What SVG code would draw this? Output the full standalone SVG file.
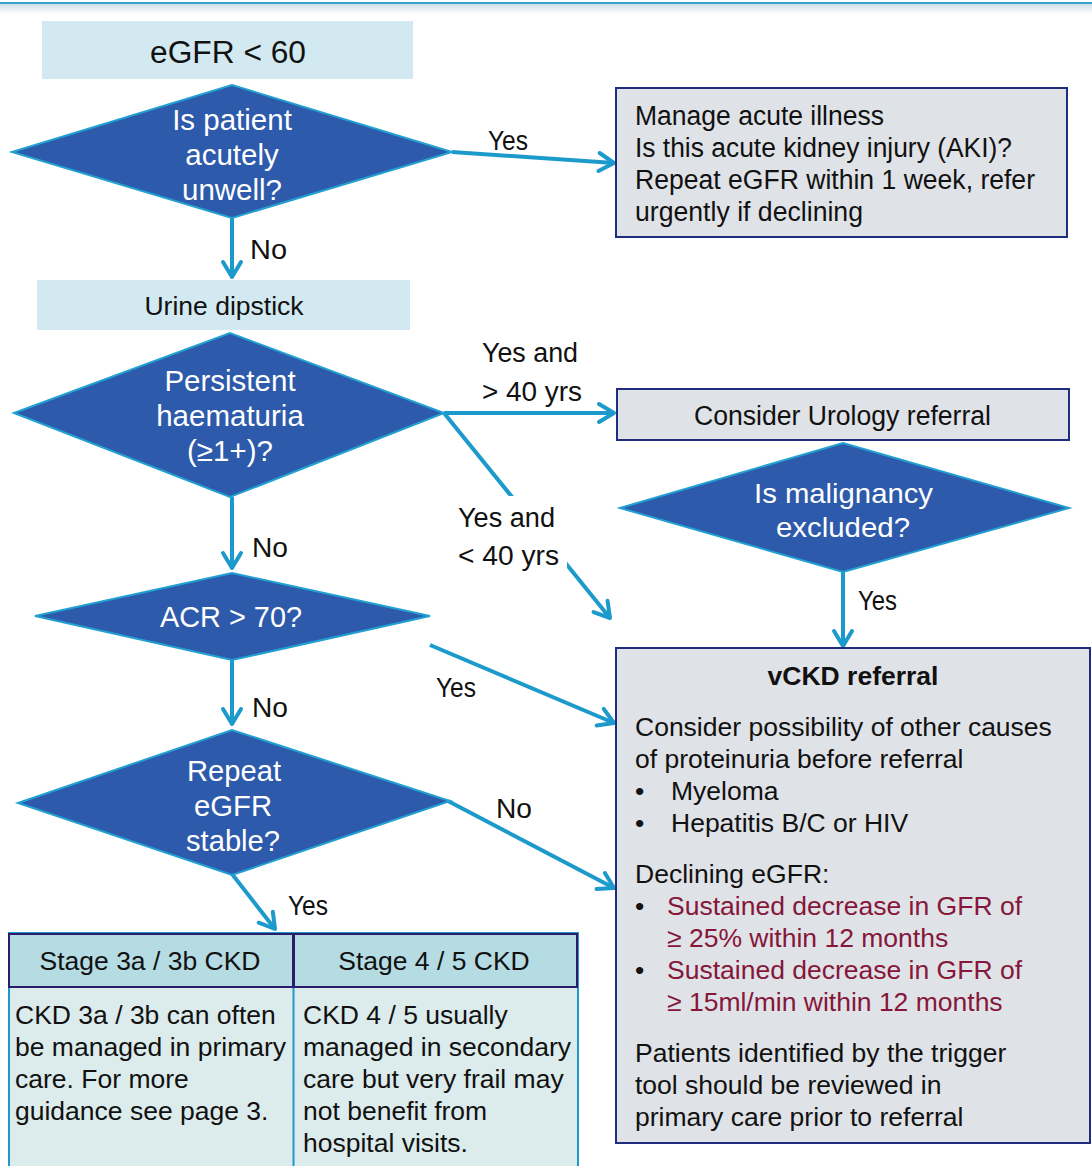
<svg xmlns="http://www.w3.org/2000/svg" width="1092" height="1166" viewBox="0 0 1092 1166">
<defs>
<linearGradient id="topg" x1="0" y1="0" x2="0" y2="1"><stop offset="0" stop-color="#cfdde6"/><stop offset="1" stop-color="#ffffff"/></linearGradient>
<marker id="ah" markerUnits="userSpaceOnUse" viewBox="0 0 24 24" refX="20" refY="12" markerWidth="24" markerHeight="24" orient="auto">
<path d="M5,3 L20,12 L5,21" fill="none" stroke="#1c9acb" stroke-width="4" stroke-linecap="round" stroke-linejoin="round"/>
</marker>
<style>
.t{font-family:"Liberation Sans",Arial,sans-serif;fill:#111}
.n{font-family:"Liberation Sans Narrow","Arial Narrow","Liberation Sans",sans-serif;fill:#111}
.w{fill:#fff}
.dia{fill:#2d5aab;stroke:#22a0d2;stroke-width:2}
.lb{fill:#d2e9f1}
.gb{fill:#dfe2e6;stroke:#1e2d7d;stroke-width:2}
.c{fill:none;stroke:#1c9acb;stroke-width:4;marker-end:url(#ah)}
.red{fill:#86163a}
</style>
</defs>
<rect width="1092" height="1166" fill="#fff"/>
<rect x="0" y="4" width="1092" height="10" fill="url(#topg)"/>
<rect x="0" y="2" width="1092" height="2" fill="#3aa2d2"/>

<g id="connectors">
<line class="c" x1="452" y1="152" x2="614" y2="163"/>
<line class="c" x1="232" y1="218" x2="232" y2="277"/>
<line class="c" x1="444" y1="413" x2="614" y2="413"/>
<line class="c" x1="444" y1="413" x2="610" y2="618"/>
<rect x="455" y="496" width="112" height="72" fill="#fff"/>
<line class="c" x1="843" y1="572" x2="843" y2="646"/>
<line class="c" x1="232" y1="497" x2="232" y2="568"/>
<line class="c" x1="430" y1="645" x2="614" y2="723"/>
<line class="c" x1="232" y1="660" x2="232" y2="724"/>
<line class="c" x1="448" y1="801" x2="614" y2="888"/>
<line class="c" x1="232" y1="874" x2="275" y2="929"/>
<g font-size="27" lengthAdjust="spacingAndGlyphs">
<text class="n" x="488" y="150" textLength="40" lengthAdjust="spacingAndGlyphs">Yes</text>
<text class="n" x="250" y="259" textLength="37" lengthAdjust="spacingAndGlyphs">No</text>
<text class="n" x="482" y="362" textLength="96" lengthAdjust="spacingAndGlyphs">Yes and</text>
<text class="n" x="482" y="401" textLength="100" lengthAdjust="spacingAndGlyphs">&gt; 40 yrs</text>
<text class="n" x="458" y="527" textLength="97" lengthAdjust="spacingAndGlyphs">Yes and</text>
<text class="n" x="458" y="565" textLength="101" lengthAdjust="spacingAndGlyphs">&lt; 40 yrs</text>
<text class="n" x="858" y="610" textLength="39" lengthAdjust="spacingAndGlyphs">Yes</text>
<text class="n" x="252" y="557" textLength="36" lengthAdjust="spacingAndGlyphs">No</text>
<text class="n" x="436" y="697" textLength="40" lengthAdjust="spacingAndGlyphs">Yes</text>
<text class="n" x="252" y="717" textLength="36" lengthAdjust="spacingAndGlyphs">No</text>
<text class="n" x="496" y="818" textLength="36" lengthAdjust="spacingAndGlyphs">No</text>
<text class="n" x="288" y="915" textLength="40" lengthAdjust="spacingAndGlyphs">Yes</text>
</g>
</g>

<g id="egfr">
<rect class="lb" x="42" y="21" width="371" height="58"/>
<text class="n" x="150" y="63" font-size="31" textLength="156" lengthAdjust="spacingAndGlyphs">eGFR &lt; 60</text>
</g>

<g id="acutely-unwell">
<polygon class="dia" points="12,152 232,85 452,152 232,218"/>
<text class="t w" x="232" y="130" font-size="29.5" text-anchor="middle">Is patient</text>
<text class="t w" x="232" y="165" font-size="29.5" text-anchor="middle">acutely</text>
<text class="t w" x="232" y="200" font-size="29.5" text-anchor="middle">unwell?</text>
</g>

<g id="manage-acute">
<rect class="gb" x="616" y="88" width="451" height="149"/>
<text class="n" x="635" y="125" font-size="27" textLength="249" lengthAdjust="spacingAndGlyphs">Manage acute illness</text>
<text class="n" x="635" y="157" font-size="27" textLength="377" lengthAdjust="spacingAndGlyphs">Is this acute kidney injury (AKI)?</text>
<text class="n" x="635" y="189" font-size="27" textLength="400" lengthAdjust="spacingAndGlyphs">Repeat eGFR within 1 week, refer</text>
<text class="n" x="635" y="221" font-size="27" textLength="228" lengthAdjust="spacingAndGlyphs">urgently if declining</text>
</g>

<g id="urine-dipstick">
<rect class="lb" x="37" y="280" width="373" height="50"/>
<text class="t" x="224" y="315" font-size="26.5" text-anchor="middle">Urine dipstick</text>
</g>

<g id="haematuria">
<polygon class="dia" points="14,413 230,333 444,413 230,497"/>
<text class="t w" x="230" y="391" font-size="29.5" text-anchor="middle">Persistent</text>
<text class="t w" x="230" y="426" font-size="29.5" text-anchor="middle">haematuria</text>
<text class="t w" x="230" y="461" font-size="29.5" text-anchor="middle">(≥1+)?</text>
</g>

<g id="urology">
<rect class="gb" x="617" y="389" width="452" height="51"/>
<text class="n" x="694" y="425" font-size="27" textLength="297" lengthAdjust="spacingAndGlyphs">Consider Urology referral</text>
</g>

<g id="malignancy">
<polygon class="dia" points="620,508 843,443 1069,508 843,572"/>
<text class="n w" x="754" y="503" font-size="28" textLength="179" lengthAdjust="spacingAndGlyphs">Is malignancy</text>
<text class="n w" x="776" y="537" font-size="28" textLength="134" lengthAdjust="spacingAndGlyphs">excluded?</text>
</g>

<g id="acr">
<polygon class="dia" points="35,616 232,573 430,616 232,660"/>
<text class="n w" x="160" y="627" font-size="29" textLength="142" lengthAdjust="spacingAndGlyphs">ACR &gt; 70?</text>
</g>

<g id="repeat-egfr">
<polygon class="dia" points="18,803 232,730 450,801 232,875"/>
<text class="n w" x="187" y="781" font-size="29" textLength="94" lengthAdjust="spacingAndGlyphs">Repeat</text>
<text class="n w" x="194" y="816" font-size="29" textLength="78" lengthAdjust="spacingAndGlyphs">eGFR</text>
<text class="n w" x="186" y="851" font-size="29" textLength="94" lengthAdjust="spacingAndGlyphs">stable?</text>
</g>

<g id="vckd-referral">
<rect class="gb" x="616" y="648" width="474" height="495"/>
<g font-size="26.5">
<text class="t" x="853" y="685" font-weight="bold" text-anchor="middle">vCKD referral</text>
<text class="t" x="635" y="736">Consider possibility of other causes</text>
<text class="t" x="635" y="768">of proteinuria before referral</text>
<text class="t" x="635" y="800">•</text>
<text class="t" x="671" y="800">Myeloma</text>
<text class="t" x="635" y="832">•</text>
<text class="t" x="671" y="832">Hepatitis B/C or HIV</text>
<text class="t" x="635" y="883">Declining eGFR:</text>
<text class="t" x="635" y="915">•</text>
<text class="t red" x="667" y="915">Sustained decrease in GFR of</text>
<text class="t red" x="667" y="947">≥ 25% within 12 months</text>
<text class="t" x="635" y="979">•</text>
<text class="t red" x="667" y="979">Sustained decrease in GFR of</text>
<text class="t red" x="667" y="1011">≥ 15ml/min within 12 months</text>
<text class="t" x="635" y="1062">Patients identified by the trigger</text>
<text class="t" x="635" y="1094">tool should be reviewed in</text>
<text class="t" x="635" y="1126">primary care prior to referral</text>
</g>
</g>

<g id="stage-table">
<rect x="9" y="933" width="569" height="240" fill="#dcebeb" stroke="#1c9acb" stroke-width="2"/>
<line x1="293.5" y1="933" x2="293.5" y2="1170" stroke="#1c9acb" stroke-width="2"/>
<rect x="9" y="934" width="284" height="53" fill="#b5dbe3" stroke="#2b1d6b" stroke-width="2"/>
<rect x="294" y="934" width="283" height="53" fill="#b5dbe3" stroke="#2b1d6b" stroke-width="2"/>
<g font-size="26.5">
<text class="t" x="150" y="970" text-anchor="middle">Stage 3a / 3b CKD</text>
<text class="t" x="434" y="970" text-anchor="middle">Stage 4 / 5 CKD</text>
<text class="t" x="15" y="1024">CKD 3a / 3b can often</text>
<text class="t" x="15" y="1056">be managed in primary</text>
<text class="t" x="15" y="1088">care. For more</text>
<text class="t" x="15" y="1120">guidance see page 3.</text>
<text class="t" x="303" y="1024">CKD 4 / 5 usually</text>
<text class="t" x="303" y="1056">managed in secondary</text>
<text class="t" x="303" y="1088">care but very frail may</text>
<text class="t" x="303" y="1120">not benefit from</text>
<text class="t" x="303" y="1152">hospital visits.</text>
</g>
</g>
</svg>
